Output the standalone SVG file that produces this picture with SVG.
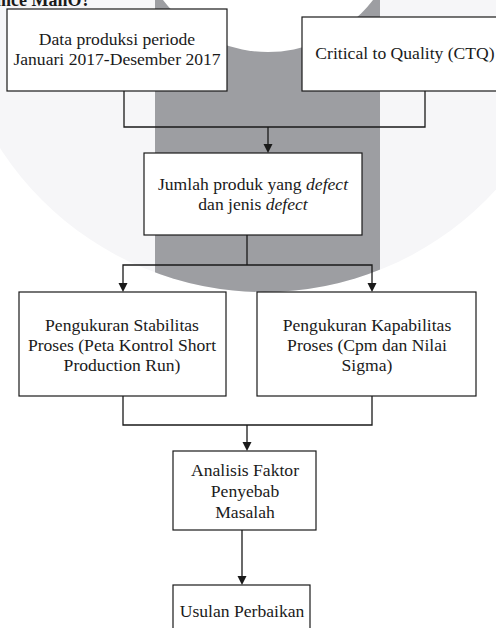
<svg xmlns="http://www.w3.org/2000/svg" width="496" height="628" viewBox="0 0 496 628">
<style>
.box{fill:#fff;stroke:#1a1a1a;stroke-width:1.2}
.t{font-size:17.6px;fill:#1a1a1a;text-anchor:middle}
.c{fill:none;stroke:#1a1a1a;stroke-width:1.3}
</style>
<defs>
<clipPath id="bigc"><circle cx="264" cy="-22" r="314"/></clipPath>
</defs>
<rect width="496" height="628" fill="#fff"/>
<g id="watermark">
<circle cx="264" cy="-22" r="314" fill="#f6f6f8"/>
<rect x="155" y="0" width="225" height="300" fill="#9d9ea2" clip-path="url(#bigc)"/>
<circle cx="268" cy="-80" r="132" fill="#fff"/>
</g>
<g font-family="Liberation Serif, Times New Roman, serif">
<text x="-4" y="6" font-weight="bold" font-size="18px" fill="#1a1a1a">ince MahO?</text>
<g id="connectors">
<path class="c" d="M124,91 V127 H425 V91"/>
<path class="c" d="M268,127 V144"/>
<path d="M263.5,144 L272.5,144 L268,153 Z" fill="#1a1a1a"/>
<path class="c" d="M247,235 V265 M123,283 V265 H372 V283"/>
<path d="M118.5,283 L127.5,283 L123,292 Z M367.5,283 L376.5,283 L372,292 Z" fill="#1a1a1a"/>
<path class="c" d="M123,396 V425 H372 V396 M247,425 V442"/>
<path d="M242.5,442 L251.5,442 L247,451 Z" fill="#1a1a1a"/>
<path class="c" d="M242,530 V576"/>
<path d="M237.5,576 L246.5,576 L242,585 Z" fill="#1a1a1a"/>
</g>
<g id="n1">
<rect class="box" x="7" y="9" width="220" height="82"/>
<text class="t" x="117" y="45">Data produksi periode</text>
<text class="t" x="117" y="65">Januari 2017-Desember 2017</text>
</g>
<g id="n2">
<rect class="box" x="302" y="17" width="210" height="74"/>
<text class="t" x="405" y="59">Critical to Quality (CTQ)</text>
</g>
<g id="n3">
<rect class="box" x="144" y="153" width="218" height="82"/>
<text class="t" x="253" y="190">Jumlah produk yang <tspan font-style="italic">defect</tspan></text>
<text class="t" x="253" y="210">dan jenis <tspan font-style="italic">defect</tspan></text>
</g>
<g id="n4">
<rect class="box" x="19" y="292" width="207" height="104"/>
<text class="t" x="122" y="331">Pengukuran Stabilitas</text>
<text class="t" x="122" y="351">Proses (Peta Kontrol Short</text>
<text class="t" x="122" y="371">Production Run)</text>
</g>
<g id="n5">
<rect class="box" x="257" y="292" width="219" height="104"/>
<text class="t" x="367" y="331">Pengukuran Kapabilitas</text>
<text class="t" x="367" y="351">Proses (Cpm dan Nilai</text>
<text class="t" x="367" y="371">Sigma)</text>
</g>
<g id="n6">
<rect class="box" x="173" y="451" width="143" height="79"/>
<text class="t" x="245" y="476">Analisis Faktor</text>
<text class="t" x="245" y="497">Penyebab</text>
<text class="t" x="245" y="518">Masalah</text>
</g>
<g id="n7">
<rect class="box" x="173" y="585" width="137" height="60"/>
<text class="t" x="242" y="617">Usulan Perbaikan</text>
</g>
</g>
</svg>
